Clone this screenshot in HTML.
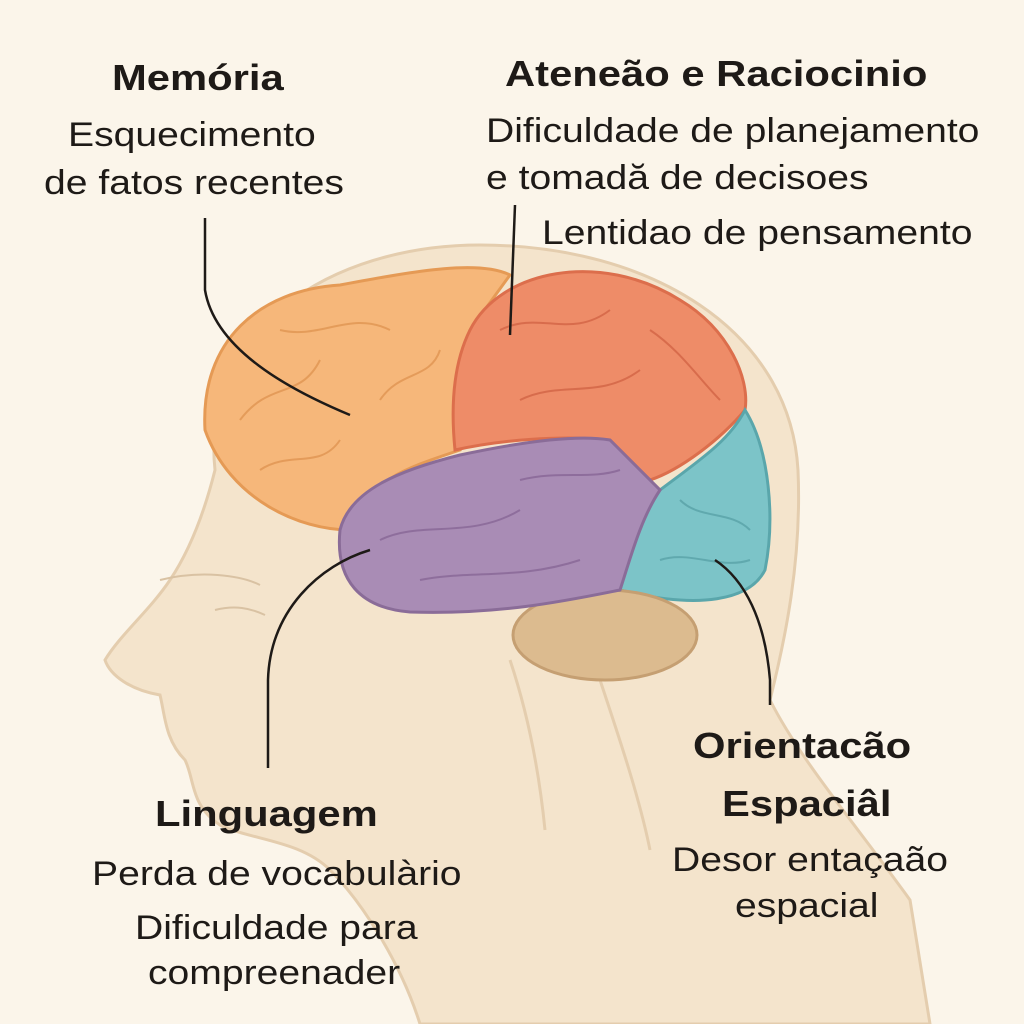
<!DOCTYPE html>
<html><head><meta charset="utf-8"><style>
body{margin:0;width:1024px;height:1024px;background:#fbf5ea;overflow:hidden;font-family:"Liberation Sans",sans-serif;}
svg{position:absolute;left:0;top:0}
.t{position:absolute;color:#1e1a17;white-space:nowrap;font-size:34px;line-height:1;transform:scaleX(1.15);transform-origin:0 0}
.b{font-weight:bold;font-size:36px;transform:scaleX(1.16)}
</style></head><body>
<svg width="1024" height="1024" viewBox="0 0 1024 1024">
<path d="M215 470 C200 330 330 245 480 245 C650 245 790 330 798 470 C802 560 785 640 770 700 C800 760 860 830 910 900 L930 1024 L420 1024 C400 960 360 900 330 870 C300 840 250 840 220 825 C190 805 195 780 185 760 C165 740 165 715 160 695 C130 690 110 675 105 660 C120 635 150 610 170 580 C190 550 205 510 215 470 Z" fill="#f4e4cc" stroke="#e4cdae" stroke-width="3"/>
<path d="M510 660 C530 720 540 780 545 830 M600 680 C620 740 640 800 650 850" fill="none" stroke="#e4cdae" stroke-width="3"/>
<path d="M205 430 C200 340 260 290 340 285 C420 270 480 260 510 275 L470 330 C455 380 455 420 460 450 C400 470 370 480 350 530 C300 530 230 500 205 430 Z" fill="#f6b77a" stroke="#e59a55" stroke-width="3"/>
<path d="M470 330 C500 270 600 250 680 300 C730 330 750 380 745 410 C720 440 680 470 650 480 L610 440 C560 435 500 440 455 450 C450 400 455 360 470 330 Z" fill="#ee8c68" stroke="#dc6e4c" stroke-width="3"/>
<path d="M745 410 C770 450 775 520 765 570 C750 600 700 610 620 590 C630 550 640 520 660 490 C700 460 730 440 745 410 Z" fill="#7cc4c8" stroke="#5aa6ab" stroke-width="3"/>
<ellipse cx="605" cy="635" rx="92" ry="45" fill="#dcbb8f" stroke="#c59f72" stroke-width="3"/>
<path d="M340 530 C350 490 400 470 460 455 C530 440 580 435 610 440 L660 490 C640 520 630 560 620 590 C570 600 500 615 410 612 C360 608 335 580 340 530 Z" fill="#a98cb5" stroke="#8a6c98" stroke-width="3"/>
<g fill="none" stroke-width="2" opacity="0.6">
<path d="M240 420 C270 380 300 400 320 360 M280 330 C320 340 350 310 390 330 M380 400 C400 370 430 380 440 350 M260 470 C290 450 320 470 340 440" stroke="#d98a45"/>
<path d="M500 330 C540 310 570 340 610 310 M520 400 C560 380 600 400 640 370 M650 330 C680 350 700 380 720 400" stroke="#c9573a"/>
<path d="M380 540 C420 520 470 540 520 510 M420 580 C470 570 520 580 580 560 M520 480 C560 470 590 480 620 470" stroke="#7d5a8c"/>
<path d="M680 500 C700 520 730 510 750 530 M660 560 C690 550 720 570 750 560" stroke="#4f979c"/>
</g>
<path d="M160 580 C200 570 240 575 260 585 M215 610 C235 605 250 608 265 615" fill="none" stroke="#d9c2a3" stroke-width="2"/>
<g fill="none" stroke="#1e1a17" stroke-width="2.5">
<path d="M205 218 L205 290 C215 350 290 390 350 415"/>
<path d="M515 205 L510 335"/>
<path d="M268 768 L268 680 C270 610 320 565 370 550"/>
<path d="M770 705 L770 680 C765 620 745 580 715 560"/>
</g>
</svg>
<div class="t b" style="left:112px;top:60px">Memória</div>
<div class="t" style="left:68px;top:118px">Esquecimento</div>
<div class="t" style="left:44px;top:166px">de fatos recentes</div>
<div class="t b" style="left:505px;top:56px">Ateneão e Raciocinio</div>
<div class="t" style="left:486px;top:114px">Dificuldade de planejamento</div>
<div class="t" style="left:486px;top:161px">e tomadă de decisoes</div>
<div class="t" style="left:542px;top:216px">Lentidao de pensamento</div>
<div class="t b" style="left:155px;top:796px">Linguagem</div>
<div class="t" style="left:92px;top:857px">Perda de vocabulàrio</div>
<div class="t" style="left:135px;top:911px">Dificuldade para</div>
<div class="t" style="left:148px;top:956px">compreenader</div>
<div class="t b" style="left:693px;top:728px">Orientacão</div>
<div class="t b" style="left:722px;top:786px">Espaciâl</div>
<div class="t" style="left:672px;top:843px">Desor entaçaão</div>
<div class="t" style="left:735px;top:889px">espacial</div>
</body></html>
